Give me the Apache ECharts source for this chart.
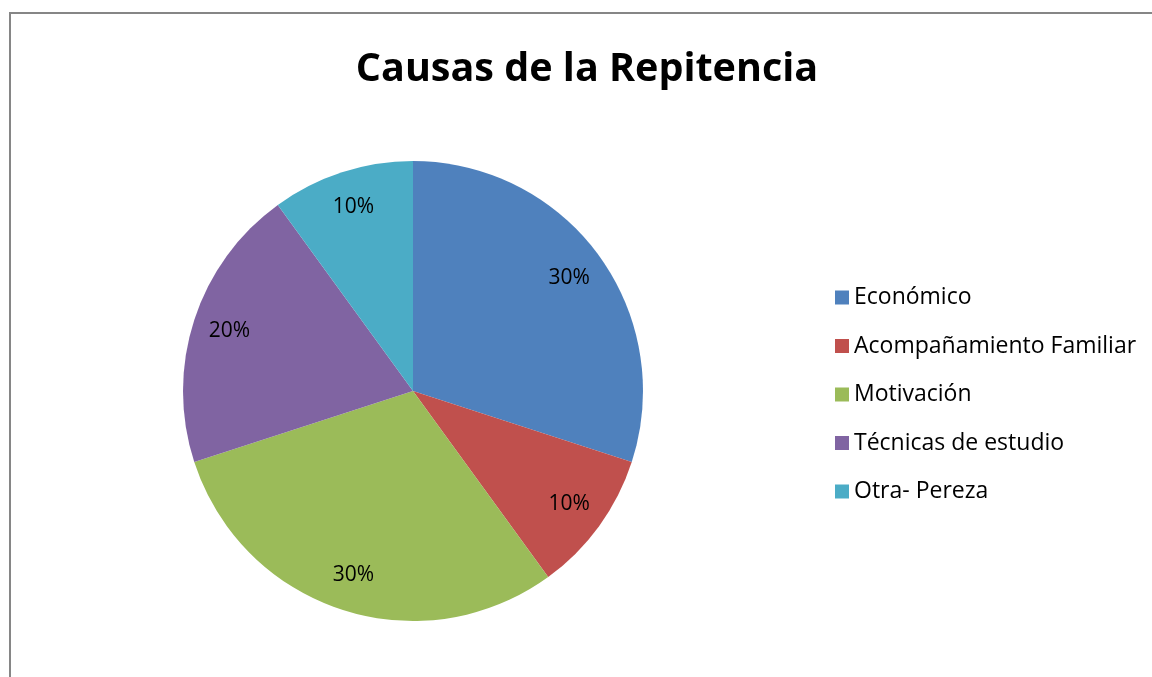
<!DOCTYPE html>
<html>
<head>
<meta charset="utf-8">
<script src="https://cdn.jsdelivr.net/npm/echarts@6/dist/echarts.min.js"></script>
<style>
  html, body { margin: 0; padding: 0; background: #fff; }
  #chart { width: 1152px; height: 677px; }
</style>
</head>
<body>
<div id="chart"></div>
<script>
// Causes of grade repetition, as shares of all answers
const categories = ['Económico', 'Acompañamiento Familiar', 'Motivación', 'Técnicas de estudio', 'Otra- Pereza'];
const shares = [30, 10, 30, 20, 10];
const colors = ['#4F81BD', '#C0504D', '#9BBB59', '#8064A2', '#4BACC6'];

const pieData = categories.map((name, i) => ({ name, value: shares[i] }));
const font = 'Open Sans, Noto Sans, sans-serif';

const chart = echarts.init(document.getElementById('chart'), null, { renderer: 'canvas' });
chart.setOption({
  animation: false,
  color: colors,
  title: {
    text: 'Causas de la Repitencia',
    left: 582,
    textAlign: 'center',
    top: 45,
    textStyle: { fontFamily: font, fontWeight: 'bold', fontSize: 39.5, color: '#000' }
  },
  legend: {
    orient: 'vertical',
    left: 830,
    top: 281,
    icon: 'rect',
    itemWidth: 14,
    itemHeight: 14,
    itemGap: 25.5,
    data: categories,
    textStyle: { fontFamily: font, fontSize: 23, color: '#000', lineHeight: 22 }
  },
  graphic: [{
    type: 'rect',
    silent: true,
    shape: { x: 10, y: 13, width: 1200, height: 720 },
    style: { fill: 'none', stroke: '#868686', lineWidth: 2 }
  }],
  series: [
    {
      type: 'pie',
      center: [413, 391],
      radius: [0, 230],
      startAngle: 90,
      clockwise: true,
      label: { show: false },
      labelLine: { show: false },
      emphasis: { disabled: true },
      itemStyle: { borderWidth: 0 },
      data: pieData
    },
    {
      // transparent ring that carries the percentage labels near the rim
      type: 'pie',
      center: [413, 391],
      radius: [150, 230],
      startAngle: 90,
      clockwise: true,
      silent: true,
      emphasis: { disabled: true },
      itemStyle: { color: 'rgba(0,0,0,0)', borderWidth: 0 },
      label: {
        show: true,
        position: 'inside',
        formatter: p => p.value + '%',
        fontFamily: font,
        fontSize: 21,
        color: '#000',
        padding: [5, 0, 0, 0]
      },
      labelLine: { show: false },
      data: pieData
    }
  ]
});
</script>
</body>
</html>
